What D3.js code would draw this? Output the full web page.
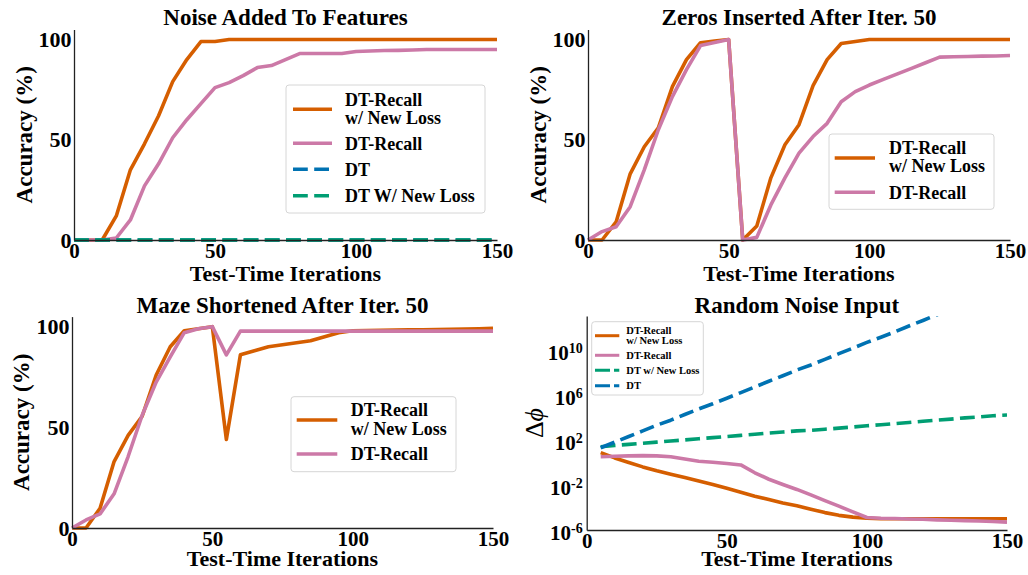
<!DOCTYPE html>
<html>
<head>
<meta charset="utf-8">
<script src="https://cdn.jsdelivr.net/npm/d3@7"></script>
<style>
  body { margin: 0; background: #fff; }
  text { font-family: "Liberation Serif", "Times New Roman", serif; font-weight: bold; fill: #000; }
</style>
</head>
<body>
<div id="figure"></div>
<script>
// test-time iterations
var iters = [0,5,10,15,20,25,30,35,40,45,50,55,60,65,70,75,80,85,90,95,100,105,110,115,120,125,130,135,140,145,150];
var itersNoise = [5,10,15,20,25,30,35,40,45,50,55,60,65,70,75,80,85,90,95,100,105,110,115,120,125,130,135,140,145,150];

// noise added to features (accuracy %)
var noiseRecallNew = [0,0,0,12,35,48,62,79,90,99,99,100,100,100,100,100,100,100,100,100,100,100,100,100,100,100,100,100,100,100,100];
var noiseRecall = [0,0,0,1,10,27,38,51,60,68,76,78.5,82,86,87,90,93,93,93,93,94,94.3,94.5,94.6,94.8,95,95,95,95,95,95];
var noiseDT = [0,0,0,0,0,0,0,0,0,0,0,0,0,0,0,0,0,0,0,0,0,0,0,0,0,0,0,0,0,0,0];
var noiseDTNew = [0,0,0,0,0,0,0,0,0,0,0,0,0,0,0,0,0,0,0,0,0,0,0,0,0,0,0,0,0,0,0];

// zeros inserted after iter. 50
var zerosRecallNew = [0,0,9,33,46.5,56,76.5,90,98.4,99.2,100,0,7,31,47.5,57.5,77,90,98,99,100,100,100,100,100,100,100,100,100,100,100];
var zerosRecall = [0,4.2,6.6,16.6,35,55,71.5,85,97,98.5,100,0,1.3,17.5,31,43.3,51.6,58.2,69,74,77.3,80.1,82.9,85.6,88.4,91.2,91.4,91.5,91.7,91.8,92];

// maze shortened after iter. 50
var mazeRecallNew = [0,0,9.8,33,46,55.5,76,90,98,99,100,44,86,88,90,91,92,93,95,97,98,98.1,98.2,98.3,98.4,98.5,98.6,98.7,98.8,99,99.2];
var mazeRecall = [0,4,7,17,35.5,56,72.5,85,97,99,100,86,97.8,97.8,97.8,97.8,97.8,97.8,97.8,97.8,97.8,97.8,97.8,97.8,97.8,97.8,97.8,97.8,97.8,97.8,97.8];

// random noise input (delta phi)
var randRecallNew = [7.4,2.5,1,0.4,0.18,0.089,0.045,0.022,0.011,5e-3,2.2e-3,1e-3,5e-4,2.5e-4,1.4e-4,7e-5,3.5e-5,2e-5,1.4e-5,1.1e-5,1e-5,1e-5,1e-5,1e-5,1e-5,1e-5,1e-5,1e-5,1e-5,1e-5];
var randRecall = [3.2,3.5,3.8,4,3.8,3.2,2,1.26,1.05,0.8,0.6,0.12,0.032,0.011,4e-3,1.3e-3,4e-4,1.3e-4,4e-5,1.3e-5,1.1e-5,1.05e-5,9.5e-6,9e-6,8e-6,7.4e-6,6.8e-6,6.3e-6,5.6e-6,5e-6];
var randDTNew = [25,32,40,50,63,80,100,126,158,200,250,316,400,500,630,710,890,1.1e3,1.4e3,1.8e3,2.2e3,2.8e3,3.5e3,4.5e3,5.6e3,7e3,9e3,1.1e4,1.4e4,1.6e4];
var randDT = [20,63,200,630,2e3,5.6e3,1.8e4,5.6e4,1.6e5,5e5,1.6e6,5e6,1.6e7,5e7,1.6e8,4.5e8,1.4e9,4.5e9,1.4e10,4.5e10,1.3e11,4e11,1.3e12,4e12,1.3e13,4e13,1.3e14,4e14,1.1e15,3.5e15];

var xTicks = [0, 50, 100, 150];
var accTicks = [0, 50, 100];
var phiTicks = [1e-6, 1e-2, 1e2, 1e6, 1e10];

var orange = "#d55e00", pink = "#cc79a7", blue = "#0072b2", green = "#009e73";
var dash = "14.8,6.4";

var svg = d3.select("#figure").append("svg")
    .attr("width", 1028)
    .attr("height", 575);

function styleAxis(g, size) {
    g.attr("font-size", null).attr("font-family", null);
    g.select(".domain").attr("stroke", "#222").attr("stroke-width", 1.3);
    g.selectAll("text").style("font-size", size + "px");
}

function drawPanel(p) {
    var xScale = d3.scaleLinear().domain([0, 150]).range([p.left, p.right]);
    var yScale = p.log
        ? d3.scaleLog().domain([1e-6, 1e13]).range([p.bottom, p.top])
        : d3.scaleLinear().domain([0, 105]).range([p.bottom, p.top]);

    var clipId = "clip" + p.id;
    svg.append("clipPath").attr("id", clipId)
      .append("rect")
        .attr("x", p.left).attr("y", p.top)
        .attr("width", p.right - p.left).attr("height", p.bottom - p.top);

    //lines
    var line = d3.line()
        .x(d => xScale(d[0]))
        .y(d => yScale(d[1]));

    var plot = svg.append("g").attr("clip-path", p.log ? "url(#" + clipId + ")" : null);
    p.series.forEach(function(s) {
        plot.append("path")
          .datum(d3.zip(s.x, s.values))
          .attr("fill", "none")
          .attr("stroke", s.color)
          .attr("stroke-width", 3.6)
          .attr("stroke-linejoin", "round")
          .attr("stroke-dasharray", s.dash ? dash : null)
          .attr("d", line);
    });

    //x axis
    var xg = svg.append("g")
        .attr("transform", `translate(0, ${p.bottom})`)
        .call(d3.axisBottom(xScale).tickValues(xTicks).tickSize(0).tickSizeOuter(0).tickPadding(3));
    styleAxis(xg, 21);

    //y axis
    var yg = svg.append("g")
        .attr("transform", `translate(${p.left}, 0)`)
        .call(d3.axisLeft(yScale).tickValues(p.log ? phiTicks : accTicks).tickSize(0).tickSizeOuter(0).tickPadding(p.log ? 4 : 2.5));
    styleAxis(yg, 22);

    if (p.log) {
        yg.selectAll(".tick text").each(function(d) {
            var t = d3.select(this);
            var e = Math.round(Math.log10(d));
            t.text(null).attr("dy", "0.46em").style("font-size", "21px");
            t.append("tspan").text("10");
            t.append("tspan").attr("dy", "-0.5em").style("font-size", "14px")
                .text(e < 0 ? "-" + Math.abs(e) : e);
        });
    }

    //title
    svg.append("text")
        .attr("x", (p.left + p.right) / 2)
        .attr("y", p.titleY)
        .attr("text-anchor", "middle")
        .style("font-size", "23px")
        .text(p.title);

    //x label
    svg.append("text")
        .attr("x", (p.left + p.right) / 2)
        .attr("y", p.xLabelY)
        .attr("text-anchor", "middle")
        .style("font-size", "22px")
        .text("Test-Time Iterations");

    //y label
    var yl = svg.append("text")
        .attr("transform", `translate(${p.yLabelX}, ${(p.top + p.bottom) / 2}) rotate(-90)`)
        .attr("text-anchor", "middle")
        .attr("dy", "0.35em")
        .style("font-size", "23px");
    if (p.log) {
        yl.style("font-weight", "normal").style("font-size", "26px");
        yl.append("tspan").text("Δ");
        yl.append("tspan").style("font-style", "italic").text("ϕ");
    } else {
        yl.text("Accuracy (%)");
    }

    //legend
    var lg = p.legend;
    svg.append("rect")
        .attr("x", lg.box[0]).attr("y", lg.box[1])
        .attr("width", lg.box[2] - lg.box[0]).attr("height", lg.box[3] - lg.box[1])
        .attr("rx", 3)
        .attr("fill", "#fff").attr("fill-opacity", 0.85)
        .attr("stroke", "#d6d6d6").attr("stroke-width", 1);

    lg.items.forEach(function(it) {
        svg.append("line")
            .attr("x1", lg.lineX[0]).attr("x2", lg.lineX[1])
            .attr("y1", it.y).attr("y2", it.y)
            .attr("stroke", it.color)
            .attr("stroke-width", lg.width)
            .attr("stroke-dasharray", it.dash ? lg.dash : null);
        it.text.forEach(function(t, i) {
            svg.append("text")
                .attr("x", lg.textX)
                .attr("y", it.textY[i])
                .attr("dy", "0.35em")
                .style("font-size", lg.size + "px")
                .text(t);
        });
    });
}

// noise added to features
drawPanel({
    id: 1, left: 74, right: 497, top: 29.5, bottom: 240,
    title: "Noise Added To Features", titleY: 25, xLabelY: 281, yLabelX: 24,
    series: [
        {x: iters, values: noiseRecallNew, color: orange},
        {x: iters, values: noiseRecall, color: pink},
        {x: iters, values: noiseDT, color: blue, dash: true},
        {x: iters, values: noiseDTNew, color: green, dash: true}
    ],
    legend: {
        box: [286, 85, 485, 213], lineX: [293, 332], textX: 345, size: 18, width: 3.6, dash: dash,
        items: [
            {color: orange, y: 109.3, text: ["DT-Recall", "w/ New Loss"], textY: [99.5, 118]},
            {color: pink, y: 143.3, text: ["DT-Recall"], textY: [143.3]},
            {color: blue, y: 169.3, dash: true, text: ["DT"], textY: [169.3]},
            {color: green, y: 195.7, dash: true, text: ["DT W/ New Loss"], textY: [195.7]}
        ]
    }
});

// zeros inserted after iter. 50
drawPanel({
    id: 2, left: 588, right: 1010, top: 29.5, bottom: 240,
    title: "Zeros Inserted After Iter. 50", titleY: 25, xLabelY: 281, yLabelX: 538,
    series: [
        {x: iters, values: zerosRecallNew, color: orange},
        {x: iters, values: zerosRecall, color: pink}
    ],
    legend: {
        box: [829, 134, 994, 209.3], lineX: [834.7, 875], textX: 889, size: 18, width: 3.6, dash: dash,
        items: [
            {color: orange, y: 158, text: ["DT-Recall", "w/ New Loss"], textY: [147.5, 166]},
            {color: pink, y: 192.3, text: ["DT-Recall"], textY: [192.3]}
        ]
    }
});

// maze shortened after iter. 50
drawPanel({
    id: 3, left: 72, right: 493, top: 316.6, bottom: 528,
    title: "Maze Shortened After Iter. 50", titleY: 312.5, xLabelY: 566, yLabelX: 21,
    series: [
        {x: iters, values: mazeRecallNew, color: orange},
        {x: iters, values: mazeRecall, color: pink}
    ],
    legend: {
        box: [291, 396.7, 456, 471.7], lineX: [296.7, 337.3], textX: 350.7, size: 18, width: 3.6, dash: dash,
        items: [
            {color: orange, y: 420, text: ["DT-Recall", "w/ New Loss"], textY: [410, 428.5]},
            {color: pink, y: 454, text: ["DT-Recall"], textY: [454]}
        ]
    }
});

// random noise input
drawPanel({
    id: 4, log: true, left: 586.7, right: 1007, top: 316, bottom: 530,
    title: "Random Noise Input", titleY: 312.5, xLabelY: 566, yLabelX: 534,
    series: [
        {x: itersNoise, values: randRecallNew, color: orange},
        {x: itersNoise, values: randRecall, color: pink},
        {x: itersNoise, values: randDTNew, color: green, dash: true},
        {x: itersNoise, values: randDT, color: blue, dash: true}
    ],
    legend: {
        box: [591.7, 321.7, 703.3, 395], lineX: [595, 619.3], textX: 626.3, size: 10.5, width: 3, dash: "15,4",
        items: [
            {color: orange, y: 335.7, text: ["DT-Recall", "w/ New Loss"], textY: [330, 340.7]},
            {color: pink, y: 355.3, text: ["DT-Recall"], textY: [355.3]},
            {color: green, y: 370.3, dash: true, text: ["DT w/ New Loss"], textY: [370.3]},
            {color: blue, y: 385.7, dash: true, text: ["DT"], textY: [385.7]}
        ]
    }
});
</script>
</body>
</html>
